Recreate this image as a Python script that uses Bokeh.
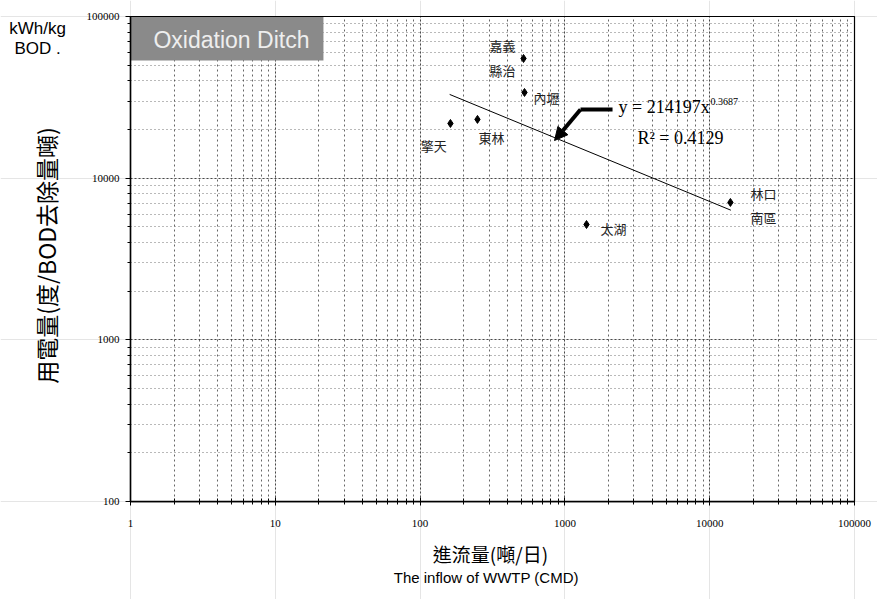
import math
from bokeh.plotting import figure
from bokeh.models import (Range1d, FixedTicker, Label, Arrow, NormalHead, LogAxis, Grid)
from bokeh.embed import file_html
from bokeh.resources import INLINE

# ---- data ----
plant_names = ["嘉義縣治", "內壢", "東林", "擎天", "太湖", "林口南區"]
inflow_cmd = [518, 526, 249, 162, 1410, 13900]
kwh_per_kg_bod = [55000, 33900, 23100, 21800, 5170, 7080]

trend_x = [160, 14000]
trend_y = [32960, 6340]

x_tick_values = [1, 10, 100, 1000, 10000, 100000]
x_tick_labels = ["1", "10", "100", "1000", "10000", "100000"]
y_tick_values = [100, 1000, 10000, 100000]
y_tick_labels = ["100", "1000", "10000", "100000"]

equation_text = "y = 214197x"
exponent_text = "0.3687"
r2_text = "R² = 0.4129"
box_title = "Oxidation Ditch"
y_title = "用電量(度/BOD去除量噸)"
unit_line1 = "kWh/kg"
unit_line2 = "BOD ."
x_title_zh = "進流量(噸/日)"
x_title_en = "The  inflow of  WWTP (CMD)"

# ---- figure: frame covers the whole canvas; axes drawn at fixed locations ----
p = figure(width=877, height=599, x_axis_type="log", y_axis_type="log",
           x_axis_location=None, y_axis_location=None,
           x_range=Range1d(10 ** -0.8978, 10 ** 5.1588),
           y_range=Range1d(10 ** 1.3946, 10 ** 5.0989),
           output_backend="svg", toolbar_location=None, min_border=0)
p.background_fill_color = "white"
p.border_fill_color = "white"
p.outline_line_color = None

minor_x = [m * 10 ** d for d in range(0, 5) for m in range(2, 10)]
minor_y = [m * 10 ** d for d in range(2, 5) for m in range(2, 10)]
xticker = FixedTicker(ticks=x_tick_values, minor_ticks=minor_x)
yticker = FixedTicker(ticks=y_tick_values, minor_ticks=minor_y)

# grids limited to the data region
xgrid = Grid(dimension=0, ticker=xticker, bounds=(1, 100000), cross_bounds=(100, 100000),
             grid_line_color="#222222", grid_line_dash="2 2", grid_line_alpha=0.8,
             minor_grid_line_color="#333333", minor_grid_line_dash="2 3",
             minor_grid_line_alpha=0.75)
ygrid = Grid(dimension=1, ticker=yticker, bounds=(100, 100000), cross_bounds=(1, 100000),
             grid_line_color="#222222", grid_line_dash="2 2", grid_line_alpha=0.8,
             minor_grid_line_color="#444444", minor_grid_line_dash="1 3",
             minor_grid_line_alpha=0.75)
p.add_layout(xgrid)
p.add_layout(ygrid)

# title box
p.quad(left=[1], right=[21.5], bottom=[53400], top=[100000],
       fill_color="#8a8a8a", line_color=None)
p.add_layout(Label(x=4.98, y=71100, text=box_title, text_align="center",
                   text_baseline="middle", text_font="Liberation Sans",
                   text_font_size="23px", text_color="#eeeeee"))

# plot border
p.quad(left=[1], right=[100000], bottom=[100], top=[100000],
       fill_color=None, line_color="black", line_width=1.2)

xaxis = LogAxis(ticker=xticker, fixed_location=100, bounds=(1, 100000))
yaxis = LogAxis(ticker=yticker, fixed_location=1, bounds=(100, 100000))
xaxis.major_label_overrides = {float(v): s for v, s in zip(x_tick_values, x_tick_labels)}
yaxis.major_label_overrides = {float(v): s for v, s in zip(y_tick_values, y_tick_labels)}
for ax in (xaxis, yaxis):
    ax.axis_line_color = "black"
    ax.axis_line_width = 1.5
    ax.major_tick_line_color = "black"
    ax.minor_tick_line_color = "black"
    ax.major_label_text_font = "Liberation Serif"
    ax.major_label_text_font_size = "11px"
    ax.major_label_text_color = "black"
xaxis.major_tick_in = 4
xaxis.major_tick_out = 4
xaxis.minor_tick_in = 3
xaxis.minor_tick_out = 3
xaxis.major_label_standoff = 14
yaxis.major_tick_in = 0
yaxis.major_tick_out = 5
yaxis.minor_tick_in = 0
yaxis.minor_tick_out = 3
yaxis.major_label_standoff = 6
p.add_layout(xaxis, "below")
p.add_layout(yaxis, "left")

# trend line and data
p.line(trend_x, trend_y, line_color="black", line_width=1)
p.scatter(inflow_cmd, kwh_per_kg_bod, marker="diamond", size=8,
          fill_color="black", line_color="black")

# arrow pointing at trend line
p.line([2133, 1282], [26600, 26600], line_color="black", line_width=4)
p.add_layout(Arrow(end=NormalHead(size=13, fill_color="black", line_color="black"),
                   x_start=1282, y_start=26600, x_end=848, y_end=17100,
                   line_color="black", line_width=4))

serif = "Liberation Serif"
p.add_layout(Label(x=2345, y=27400, text=equation_text, text_baseline="middle",
                   text_font=serif, text_font_size="18px", text_color="black"))
p.add_layout(Label(x=10130, y=29800, text=exponent_text, text_baseline="middle",
                   text_font=serif, text_font_size="10px", text_color="black"))
p.add_layout(Label(x=3170, y=17600, text=r2_text, text_baseline="middle",
                   text_font=serif, text_font_size="18px", text_color="black"))

# point labels
cjk = "Noto Sans CJK TC"
point_labels = [
    ("嘉義", 456, 66200, "right"),
    ("縣治", 456, 46400, "right"),
    ("內壢", 607, 31600, "left"),
    ("擎天", 101, 15900, "left"),
    ("東林", 253, 17900, "left"),
    ("太湖", 1762, 4890, "left"),
    ("林口", 19100, 8040, "left"),
    ("南區", 19100, 5710, "left"),
]
for txt, lx, ly, al in point_labels:
    p.add_layout(Label(x=lx, y=ly, text=txt, text_align=al, text_baseline="middle",
                       text_font=cjk, text_font_size="13px", text_color="#222222"))

# axis titles
p.add_layout(Label(x=0.259, y=3330, text=y_title, angle=math.pi / 2,
                   text_align="center", text_baseline="middle",
                   text_font=cjk, text_font_size="23px", text_color="black"))
p.add_layout(Label(x=0.228, y=84300, text=unit_line1, text_align="center",
                   text_baseline="middle", text_font="Liberation Sans",
                   text_font_size="17px", text_color="black"))
p.add_layout(Label(x=0.228, y=63400, text=unit_line2, text_align="center",
                   text_baseline="middle", text_font="Liberation Sans",
                   text_font_size="17px", text_color="black"))
p.add_layout(Label(x=306, y=47.8, text=x_title_zh, text_align="center",
                   text_baseline="middle", text_font=cjk,
                   text_font_size="19px", text_color="black"))
p.add_layout(Label(x=306, y=34.0, text=x_title_en, text_align="center",
                   text_baseline="middle", text_font="Liberation Sans",
                   text_font_size="15px", text_color="black"))

open("out.html", "w").write(file_html(p, INLINE))
